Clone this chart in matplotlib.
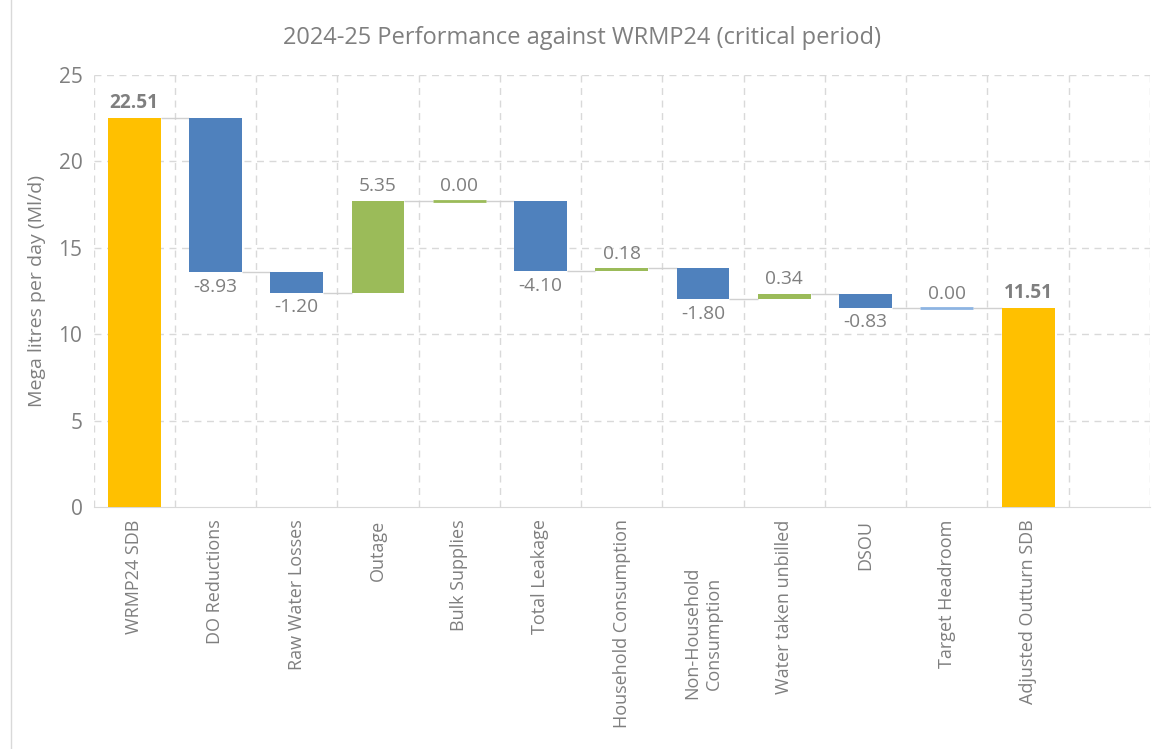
import matplotlib.pyplot as plt
from matplotlib.transforms import ScaledTranslation, blended_transform_factory

# Datos del gráfico
categorias = ["WRMP24 SDB", "DO Reductions", "Raw Water Losses", "Outage", "Bulk Supplies",
              "Total Leakage", "Household Consumption", "Non-Household\nConsumption",
              "Water taken unbilled", "DSOU", "Target Headroom", "Adjusted Outturn SDB"]
valores = [22.51, -8.93, -1.20, 5.35, 0.00, -4.10, 0.18, -1.80, 0.34, -0.83, 0.00, 11.51]
es_total = [True, False, False, False, False, False, False, False, False, False, False, True]
colores = ["#FFC000", "#4F81BD", "#4F81BD", "#9BBB59", "#9BBB59", "#4F81BD", "#9BBB59",
           "#4F81BD", "#9BBB59", "#4F81BD", "#8DB4E2", "#FFC000"]

gris = "#7f7f7f"
plt.rcParams['font.family'] = ['Open Sans', 'DejaVu Sans']

fig = plt.figure(figsize=(11.52, 7.49), dpi=100)
ax = fig.add_axes([93.5 / 1152, 1 - 507 / 749, (1150 - 93.5) / 1152, (507 - 75) / 749])

ancho = 0.65
tam = 13.8
nivel = 0
niveles = []
for i, v in enumerate(valores):
    if es_total[i]:
        nivel = v
        ax.bar(i, v, width=ancho, color=colores[i], zorder=3)
        ax.text(i, v + 0.3, f"{v:.2f}", ha='center', va='bottom', fontsize=tam,
                fontweight='bold', color=gris)
    else:
        inicio = nivel
        nivel = nivel + v
        if v == 0:
            ax.hlines(nivel, i - ancho / 2, i + ancho / 2, color=colores[i], lw=2, zorder=3)
            ax.text(i, nivel + 0.3, f"{v:.2f}", ha='center', va='bottom', fontsize=tam, color=gris)
        else:
            ax.bar(i, v, bottom=inicio, width=ancho, color=colores[i], zorder=3)
            if v > 0:
                ax.text(i, max(inicio, nivel) + 0.3, f"{v:.2f}", ha='center', va='bottom',
                        fontsize=tam, color=gris)
            else:
                ax.text(i, min(inicio, nivel) - 0.3, f"{v:.2f}", ha='center', va='top',
                        fontsize=tam, color=gris)
    niveles.append(nivel)

# Líneas conectoras entre barras
for i in range(len(valores) - 1):
    ax.hlines(niveles[i], i + ancho / 2, i + 1 - ancho / 2, color="#d0d0d0", lw=1, zorder=2)

ax.set_xlim(-0.5, 12.5)
ax.set_ylim(0, 25)
ax.set_yticks(range(0, 26, 5))
ax.set_xticks(range(len(categorias)))
# La etiqueta de dos líneas se dibuja aparte, más abajo
etiquetas = [c if "\n" not in c else "" for c in categorias]
ax.set_xticklabels(etiquetas, rotation=90, fontsize=13, color=gris)
ax.tick_params(axis='y', labelsize=15, colors=gris, length=0, pad=8)
ax.tick_params(axis='x', length=0, pad=9)

trans = blended_transform_factory(ax.transData, ax.transAxes)
for i, c in enumerate(categorias):
    if "\n" in c:
        ax.text(i, 0, c, transform=trans + ScaledTranslation(0, -0.60, fig.dpi_scale_trans),
                rotation=90, ha='center', va='top', multialignment='center',
                fontsize=13, color=gris)

# Rejilla discontinua
for y in range(5, 26, 5):
    ax.axhline(y, color="#d9d9d9", lw=1, ls=(0, (5, 4)), zorder=1)
for x in range(14):
    ax.axvline(x - 0.5, color="#d9d9d9", lw=1, ls=(0, (5, 4)), zorder=1)

for lado in ['top', 'right', 'left']:
    ax.spines[lado].set_visible(False)
ax.spines['bottom'].set_color("#d9d9d9")

ax.set_ylabel("Mega litres per day (Ml/d)", fontsize=14, color=gris, labelpad=9)
fig.text(582 / 1152, 1 - 38 / 749, "2024-25 Performance against WRMP24 (critical period)",
         ha='center', va='center', fontsize=17, color=gris)

# Borde izquierdo del gráfico
fig.add_artist(plt.Line2D([11 / 1152, 11 / 1152], [0, 1], color="#d9d9d9", lw=1))

fig.savefig("out.png", dpi=100)
